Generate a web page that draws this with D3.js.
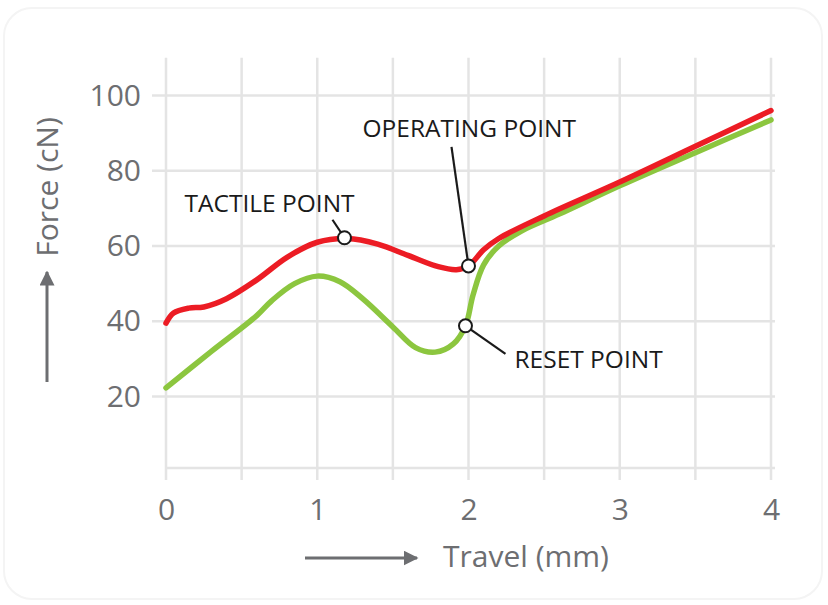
<!DOCTYPE html>
<html>
<head>
<meta charset="utf-8">
<script src="https://cdn.jsdelivr.net/npm/d3@7"></script>
<style>
  body { margin: 0; background: #fff; }
  svg { display: block; font-family: "Open Sans", sans-serif; }
</style>
</head>
<body>
<div id="chart"></div>
<script>
// force / travel curves of the switch
const pressTravel = [0, 0.05, 0.15, 0.25, 0.4, 0.6, 0.8, 1.0, 1.2, 1.4, 1.6, 1.8, 1.92, 2.0, 2.1, 2.2, 2.5, 3, 3.5, 4];
const pressForce  = [39.5, 42.2, 43.5, 43.8, 46, 51, 57, 61, 62, 60.5, 57.5, 54.5, 53.7, 54.7, 59, 62, 68, 77, 86.5, 96];

const releaseTravel = [0, 0.3, 0.6, 0.7, 0.85, 1.0, 1.15, 1.3, 1.5, 1.65, 1.78, 1.9, 1.98, 2.03, 2.1, 2.2, 2.35, 2.6, 3, 3.5, 4];
const releaseForce  = [22.3, 32, 41.5, 45.5, 50, 52, 50.5, 46, 38.5, 33, 31.8, 34, 38.8, 47, 55, 60, 64, 68.5, 76, 84.8, 93.5];

const xTicks = [0, 1, 2, 3, 4];
const yTicks = [20, 40, 60, 80, 100];

const pointNames = ["TACTILE POINT", "OPERATING POINT", "RESET POINT"];
const pointTravel = [1.18, 2.0, 1.98];
const pointForce = [62.2, 54.7, 38.8];

const width = 828, height = 605;

const x = d3.scaleLinear().domain([0, 4]).range([166, 771]);
const y = d3.scaleLinear().domain([0, 100]).range([471.8, 95.5]);

const svg = d3.select("#chart").append("svg")
  .attr("width", width)
  .attr("height", height);

// faint card outline
svg.append("rect")
  .attr("x", 4).attr("y", 8)
  .attr("width", width - 10).attr("height", height - 14)
  .attr("rx", 28)
  .attr("fill", "#fff")
  .attr("stroke", "#f4f4f4")
  .attr("stroke-width", 2);

const grid = svg.append("g").attr("stroke", "#e4e4e4").attr("stroke-width", 2.5);

// vertical grid every half mm, poking below the frame
grid.selectAll("line.v")
  .data(d3.range(0, 4.01, 0.5))
  .join("line")
  .attr("class", "v")
  .attr("x1", d => x(d)).attr("x2", d => x(d))
  .attr("y1", y(110)).attr("y2", y(1) + 12);

grid.selectAll("line.h")
  .data(yTicks)
  .join("line")
  .attr("class", "h")
  .attr("x1", x(0) - 14).attr("x2", x(4) + 4)
  .attr("y1", d => y(d)).attr("y2", d => y(d));

grid.append("line")
  .attr("x1", x(0)).attr("x2", x(4) + 4)
  .attr("y1", y(1)).attr("y2", y(1));

// tick labels
const yAxis = svg.append("g")
  .attr("transform", `translate(${x(0) - 14},0)`)
  .call(d3.axisLeft(y).tickValues(yTicks).tickSize(0).tickPadding(11));

const xAxis = svg.append("g")
  .attr("transform", `translate(0,${y(1) + 12})`)
  .call(d3.axisBottom(x).tickValues(xTicks).tickFormat(d3.format("d")).tickSize(0).tickPadding(19));

[yAxis, xAxis].forEach(a => {
  a.select(".domain").remove();
  a.selectAll("text")
    .attr("font-family", "Open Sans, sans-serif")
    .attr("font-size", 30)
    .attr("fill", "#6d6e71");
});

// axis titles with arrows
svg.append("defs").append("marker")
  .attr("id", "head")
  .attr("viewBox", "0 0 10 10")
  .attr("refX", 9).attr("refY", 5)
  .attr("markerWidth", 5).attr("markerHeight", 5)
  .attr("markerUnits", "strokeWidth")
  .attr("orient", "auto")
  .append("path")
  .attr("d", "M0,0 L10,5 L0,10 Z")
  .attr("fill", "#6d6e71");

svg.append("text")
  .attr("transform", "translate(58,187) rotate(-90)")
  .attr("text-anchor", "middle")
  .attr("font-size", 30)
  .attr("fill", "#6d6e71")
  .text("Force (cN)");

svg.append("line")
  .attr("x1", 47).attr("x2", 47)
  .attr("y1", 382).attr("y2", 272)
  .attr("stroke", "#6d6e71").attr("stroke-width", 3)
  .attr("marker-end", "url(#head)");

svg.append("text")
  .attr("x", 443).attr("y", 567)
  .attr("font-size", 30)
  .attr("fill", "#6d6e71")
  .text("Travel (mm)");

svg.append("line")
  .attr("x1", 305).attr("x2", 417)
  .attr("y1", 558).attr("y2", 558)
  .attr("stroke", "#6d6e71").attr("stroke-width", 3)
  .attr("marker-end", "url(#head)");

// curves
const line = d3.line()
  .x(d => x(d[0]))
  .y(d => y(d[1]))
  .curve(d3.curveCatmullRom.alpha(0.5));

svg.append("path")
  .datum(d3.zip(releaseTravel, releaseForce))
  .attr("fill", "none")
  .attr("stroke", "#8cc63f")
  .attr("stroke-width", 5.5)
  .attr("stroke-linecap", "round")
  .attr("d", line);

svg.append("path")
  .datum(d3.zip(pressTravel, pressForce))
  .attr("fill", "none")
  .attr("stroke", "#ec1c24")
  .attr("stroke-width", 5.5)
  .attr("stroke-linecap", "round")
  .attr("d", line);

// callouts: label position and leader start, relative to the point
const labelOffset = [[-160, -26], [-106, -129], [49, 42]];
const leaderEnd = [[-12, -18], [-17, -119], [40, 28]];

const notes = svg.append("g");
pointNames.forEach((name, i) => {
  const px = x(pointTravel[i]), py = y(pointForce[i]);
  notes.append("line")
    .attr("x1", px).attr("y1", py)
    .attr("x2", px + leaderEnd[i][0]).attr("y2", py + leaderEnd[i][1])
    .attr("stroke", "#1a1a1a").attr("stroke-width", 2.2);
  notes.append("circle")
    .attr("cx", px).attr("cy", py).attr("r", 6.5)
    .attr("fill", "#fff")
    .attr("stroke", "#1a1a1a").attr("stroke-width", 2);
  notes.append("text")
    .attr("x", px + labelOffset[i][0]).attr("y", py + labelOffset[i][1])
    .attr("font-size", 24.5)
    .attr("fill", "#1a1a1a")
    .text(name);
});
</script>
</body>
</html>
